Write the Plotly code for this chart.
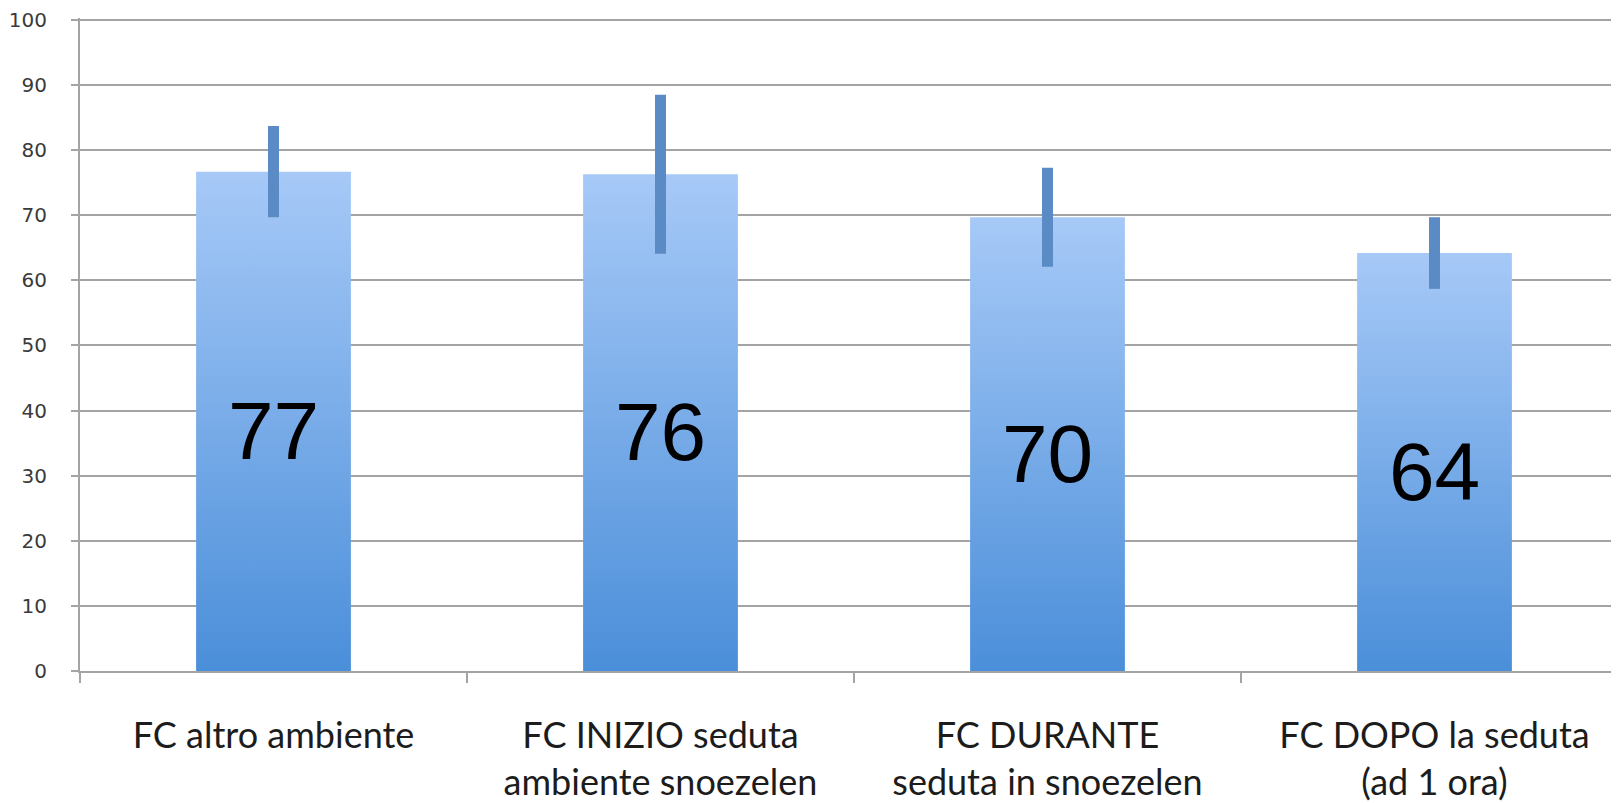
import plotly.graph_objects as go

categories = [
    "FC altro ambiente",
    "FC INIZIO seduta<br>ambiente snoezelen",
    "FC DURANTE<br>seduta in snoezelen",
    "FC DOPO la seduta<br>(ad 1 ora)",
]
means = [76.7, 76.3, 69.7, 64.2]
errors = [7.0, 12.2, 7.6, 5.5]
y_ticks = list(range(0, 101, 10))

BAR_W = 0.4
TOP_C = "#a6c9f7"
BOT_C = "#4a8ed9"
ERR_C = "#5a8bc4"
GRID_C = "#a4a4a4"

fig = go.Figure()
xs = list(range(len(categories)))

for i, v in zip(xs, means):
    fig.add_trace(go.Scatter(
        x=[i - BAR_W / 2, i + BAR_W / 2, i + BAR_W / 2, i - BAR_W / 2, i - BAR_W / 2],
        y=[0, 0, v, v, 0],
        mode="lines", line=dict(width=0), fill="toself",
        fillgradient=dict(type="vertical", colorscale=[[0, BOT_C], [1, TOP_C]], start=0, stop=v),
        hoverinfo="skip", showlegend=False,
    ))

fig.add_trace(go.Scatter(
    x=xs, y=means, mode="markers",
    marker=dict(size=1, color="rgba(0,0,0,0)"),
    error_y=dict(type="data", array=errors, visible=True, color=ERR_C, thickness=11, width=0),
    showlegend=False, hoverinfo="skip",
))

for i, v in zip(xs, means):
    fig.add_annotation(
        x=i, y=v / 2, xref="x", yref="y", text=f"{v:.0f}", showarrow=False,
        yshift=-9, xanchor="center", yanchor="middle",
        font=dict(family="Liberation Sans", size=82, color="#000000"),
    )

n = len(categories)
fig.update_layout(
    width=1611, height=795,
    margin=dict(l=72, r=0, t=7, b=131),
    paper_bgcolor="white", plot_bgcolor="white",
    xaxis=dict(
        range=[-0.5, n - 0.5 - 9 / 387],
        tickmode="array", tickvals=xs, ticktext=categories,
        ticks="", showgrid=False, zeroline=False,
        showline=True, linecolor=GRID_C, linewidth=2,
        tickfont=dict(family="Lato", size=36, color="#1c1c1c"),
        ticklabelstandoff=32,
        minor=dict(tickmode="array", tickvals=[i - 0.5 for i in xs], ticks="outside",
                   ticklen=10, tickwidth=2, tickcolor=GRID_C, showgrid=False),
    ),
    yaxis=dict(
        range=[0, 100.3], tickmode="array", tickvals=y_ticks,
        showgrid=True, gridcolor=GRID_C, gridwidth=2, zeroline=False,
        showline=True, linecolor=GRID_C, linewidth=2,
        ticks="outside", ticklen=7, tickwidth=2, tickcolor=GRID_C,
        tickfont=dict(family="DejaVu Sans", size=20, color="#3a3a3a"),
        ticklabelstandoff=20, ticklabeloverflow="allow",
    ),
)

fig.write_html("out.html")
